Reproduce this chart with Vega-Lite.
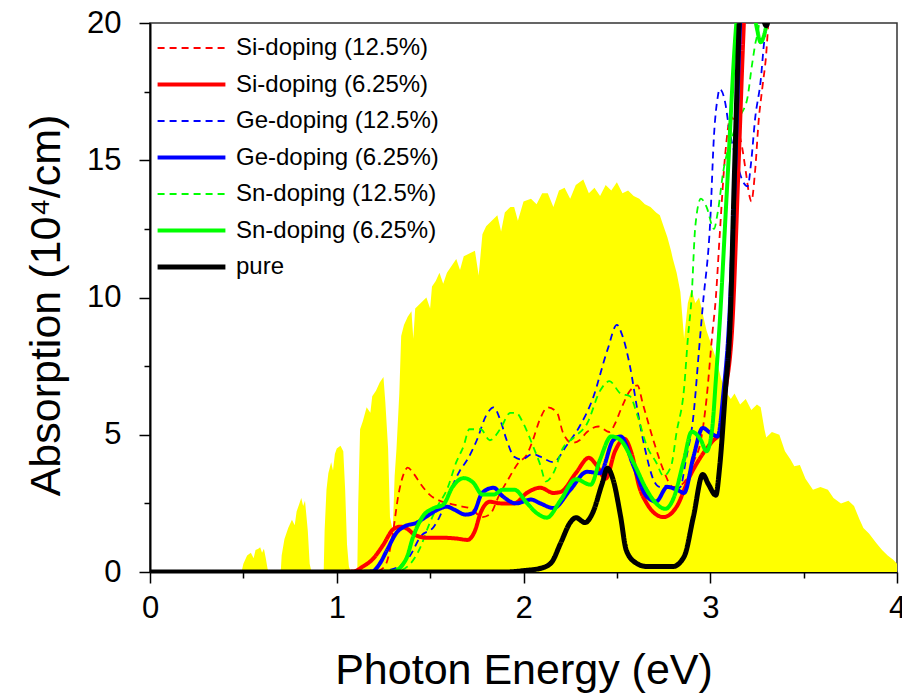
{
  "$schema": "https://vega.github.io/schema/vega-lite/v6.json",
  "width": 747,
  "height": 549,
  "autosize": {"type": "none"},
  "padding": {"left": 150, "top": 23, "right": 5, "bottom": 125},
  "config": {"font": "Liberation Sans", "view": {"stroke": "#333333", "strokeWidth": 1.5}},
  "datasets": {
    "spectrum": [
      {"e":0.49,"a":0},{"e":0.50,"a":0.3},{"e":0.52,"a":0.6},{"e":0.54,"a":0.7},{"e":0.555,"a":0.5},{"e":0.565,"a":0.8},{"e":0.58,"a":0.85},{"e":0.59,"a":0.9},{"e":0.60,"a":0.7},{"e":0.61,"a":0.85},{"e":0.62,"a":0.5},{"e":0.63,"a":0.1},{"e":0.64,"a":0},
      {"e":0.70,"a":0},{"e":0.705,"a":0.6},{"e":0.72,"a":1.2},{"e":0.74,"a":1.6},{"e":0.76,"a":1.9},{"e":0.775,"a":1.7},{"e":0.785,"a":2.2},{"e":0.80,"a":2.5},{"e":0.81,"a":2.7},{"e":0.82,"a":2.4},{"e":0.83,"a":2.6},{"e":0.845,"a":1.5},{"e":0.855,"a":0.3},{"e":0.865,"a":0},
      {"e":0.93,"a":0},{"e":0.935,"a":1.5},{"e":0.945,"a":3.0},{"e":0.955,"a":3.6},{"e":0.97,"a":4.0},{"e":0.98,"a":3.7},{"e":0.99,"a":4.3},{"e":1.00,"a":4.5},{"e":1.02,"a":4.6},{"e":1.035,"a":4.4},{"e":1.045,"a":3.0},{"e":1.055,"a":1.0},{"e":1.065,"a":0.2},{"e":1.075,"a":0},
      {"e":1.11,"a":0},{"e":1.115,"a":2.5},{"e":1.125,"a":5.2},{"e":1.14,"a":5.5},{"e":1.16,"a":6.0},{"e":1.18,"a":5.8},{"e":1.19,"a":6.4},{"e":1.21,"a":6.6},{"e":1.23,"a":6.9},{"e":1.25,"a":7.1},{"e":1.26,"a":6.2},{"e":1.275,"a":4.5},{"e":1.285,"a":2.0},{"e":1.30,"a":1.5},{"e":1.31,"a":3.5},{"e":1.32,"a":4.5},{"e":1.335,"a":6.5},{"e":1.345,"a":8.6},{"e":1.36,"a":9.0},{"e":1.38,"a":9.3},{"e":1.40,"a":9.5},{"e":1.41,"a":8.5},{"e":1.42,"a":9.6},{"e":1.45,"a":9.8},{"e":1.48,"a":10.0},{"e":1.50,"a":9.6},{"e":1.51,"a":10.4},{"e":1.53,"a":10.6},{"e":1.55,"a":10.9},{"e":1.57,"a":10.5},{"e":1.59,"a":10.9},{"e":1.62,"a":11.2},{"e":1.64,"a":11.4},{"e":1.66,"a":11.0},{"e":1.68,"a":11.5},{"e":1.71,"a":11.6},{"e":1.74,"a":11.7},{"e":1.76,"a":10.8},{"e":1.78,"a":12.3},{"e":1.80,"a":12.6},{"e":1.83,"a":12.8},{"e":1.86,"a":13.0},{"e":1.88,"a":12.4},{"e":1.90,"a":13.1},{"e":1.93,"a":13.3},{"e":1.95,"a":13.3},{"e":1.97,"a":12.8},{"e":2.00,"a":13.5},{"e":2.04,"a":13.6},{"e":2.07,"a":13.4},{"e":2.10,"a":13.8},{"e":2.13,"a":13.8},{"e":2.16,"a":13.3},{"e":2.19,"a":13.9},{"e":2.22,"a":14.0},{"e":2.25,"a":13.6},{"e":2.28,"a":14.1},{"e":2.32,"a":14.3},{"e":2.35,"a":13.8},{"e":2.38,"a":14.0},{"e":2.41,"a":13.7},{"e":2.44,"a":14.1},{"e":2.47,"a":13.9},{"e":2.50,"a":14.2},{"e":2.53,"a":13.8},{"e":2.56,"a":13.9},{"e":2.59,"a":13.7},{"e":2.62,"a":13.6},{"e":2.65,"a":13.4},{"e":2.68,"a":13.3},{"e":2.71,"a":13.1},{"e":2.73,"a":13.0},{"e":2.75,"a":12.6},{"e":2.77,"a":12.2},{"e":2.79,"a":11.7},{"e":2.80,"a":11.4},{"e":2.82,"a":10.9},{"e":2.84,"a":10.2},{"e":2.86,"a":8.5},{"e":2.88,"a":9.8},{"e":2.90,"a":10.3},{"e":2.92,"a":9.8},{"e":2.94,"a":10.0},{"e":2.96,"a":9.4},{"e":2.98,"a":8.8},{"e":3.00,"a":8.4},{"e":3.03,"a":7.8},{"e":3.06,"a":7.0},{"e":3.09,"a":6.5},{"e":3.11,"a":6.3},{"e":3.13,"a":6.5},{"e":3.16,"a":6.1},{"e":3.19,"a":6.3},{"e":3.22,"a":5.9},{"e":3.25,"a":6.1},{"e":3.27,"a":6.0},{"e":3.29,"a":5.2},{"e":3.30,"a":4.9},{"e":3.33,"a":5.1},{"e":3.37,"a":5.0},{"e":3.40,"a":4.4},{"e":3.43,"a":4.1},{"e":3.45,"a":3.85},{"e":3.48,"a":3.9},{"e":3.51,"a":3.4},{"e":3.55,"a":3.0},{"e":3.59,"a":3.1},{"e":3.63,"a":3.0},{"e":3.66,"a":2.7},{"e":3.70,"a":2.5},{"e":3.74,"a":2.6},{"e":3.77,"a":2.4},{"e":3.80,"a":1.9},{"e":3.82,"a":1.6},{"e":3.85,"a":1.4},{"e":3.89,"a":1.05},{"e":3.92,"a":0.8},{"e":3.95,"a":0.6},{"e":3.98,"a":0.45},{"e":4.0,"a":0.3}
    ],
    "curves": [
      {"s":"Si-doping (12.5%)","e":0,"a":0},{"s":"Si-doping (12.5%)","e":1.2,"a":0},{"s":"Si-doping (12.5%)","e":1.24,"a":0.1},{"s":"Si-doping (12.5%)","e":1.27,"a":0.4},{"s":"Si-doping (12.5%)","e":1.30,"a":1.4},{"s":"Si-doping (12.5%)","e":1.33,"a":2.8},{"s":"Si-doping (12.5%)","e":1.36,"a":3.6},{"s":"Si-doping (12.5%)","e":1.38,"a":3.8},{"s":"Si-doping (12.5%)","e":1.41,"a":3.6},{"s":"Si-doping (12.5%)","e":1.45,"a":3.2},{"s":"Si-doping (12.5%)","e":1.50,"a":2.8},{"s":"Si-doping (12.5%)","e":1.55,"a":2.6},{"s":"Si-doping (12.5%)","e":1.60,"a":2.5},{"s":"Si-doping (12.5%)","e":1.66,"a":2.4},{"s":"Si-doping (12.5%)","e":1.72,"a":2.3},{"s":"Si-doping (12.5%)","e":1.78,"a":2.0},{"s":"Si-doping (12.5%)","e":1.82,"a":2.1},{"s":"Si-doping (12.5%)","e":1.87,"a":2.8},{"s":"Si-doping (12.5%)","e":1.92,"a":3.4},{"s":"Si-doping (12.5%)","e":1.97,"a":3.95},{"s":"Si-doping (12.5%)","e":2.02,"a":4.3},{"s":"Si-doping (12.5%)","e":2.05,"a":4.8},{"s":"Si-doping (12.5%)","e":2.09,"a":5.6},{"s":"Si-doping (12.5%)","e":2.13,"a":6.0},{"s":"Si-doping (12.5%)","e":2.18,"a":5.8},{"s":"Si-doping (12.5%)","e":2.21,"a":5.1},{"s":"Si-doping (12.5%)","e":2.26,"a":4.7},{"s":"Si-doping (12.5%)","e":2.30,"a":4.8},{"s":"Si-doping (12.5%)","e":2.34,"a":5.1},{"s":"Si-doping (12.5%)","e":2.40,"a":5.3},{"s":"Si-doping (12.5%)","e":2.46,"a":5.1},{"s":"Si-doping (12.5%)","e":2.49,"a":5.4},{"s":"Si-doping (12.5%)","e":2.52,"a":5.9},{"s":"Si-doping (12.5%)","e":2.57,"a":6.6},{"s":"Si-doping (12.5%)","e":2.61,"a":6.8},{"s":"Si-doping (12.5%)","e":2.64,"a":6.1},{"s":"Si-doping (12.5%)","e":2.70,"a":4.7},{"s":"Si-doping (12.5%)","e":2.75,"a":3.7},{"s":"Si-doping (12.5%)","e":2.80,"a":3.1},{"s":"Si-doping (12.5%)","e":2.85,"a":3.2},{"s":"Si-doping (12.5%)","e":2.91,"a":4.0},{"s":"Si-doping (12.5%)","e":2.95,"a":4.8},{"s":"Si-doping (12.5%)","e":2.98,"a":6.3},{"s":"Si-doping (12.5%)","e":3.01,"a":8.6},{"s":"Si-doping (12.5%)","e":3.03,"a":10.0},{"s":"Si-doping (12.5%)","e":3.05,"a":12.2},{"s":"Si-doping (12.5%)","e":3.08,"a":15.2},{"s":"Si-doping (12.5%)","e":3.11,"a":16.6},{"s":"Si-doping (12.5%)","e":3.13,"a":16.4},{"s":"Si-doping (12.5%)","e":3.17,"a":15.5},{"s":"Si-doping (12.5%)","e":3.19,"a":14.6},{"s":"Si-doping (12.5%)","e":3.21,"a":13.7},{"s":"Si-doping (12.5%)","e":3.22,"a":13.5},{"s":"Si-doping (12.5%)","e":3.24,"a":14.6},{"s":"Si-doping (12.5%)","e":3.26,"a":16.5},{"s":"Si-doping (12.5%)","e":3.28,"a":17.7},{"s":"Si-doping (12.5%)","e":3.30,"a":18.9},{"s":"Si-doping (12.5%)","e":3.31,"a":19.9},{"s":"Si-doping (12.5%)","e":3.33,"a":21.5},
      {"s":"Ge-doping (12.5%)","e":0,"a":0},{"s":"Ge-doping (12.5%)","e":1.2,"a":0},{"s":"Ge-doping (12.5%)","e":1.26,"a":0.05},{"s":"Ge-doping (12.5%)","e":1.32,"a":0.15},{"s":"Ge-doping (12.5%)","e":1.39,"a":0.57},{"s":"Ge-doping (12.5%)","e":1.45,"a":1.3},{"s":"Ge-doping (12.5%)","e":1.52,"a":1.65},{"s":"Ge-doping (12.5%)","e":1.55,"a":2.0},{"s":"Ge-doping (12.5%)","e":1.61,"a":3.0},{"s":"Ge-doping (12.5%)","e":1.66,"a":3.7},{"s":"Ge-doping (12.5%)","e":1.70,"a":4.1},{"s":"Ge-doping (12.5%)","e":1.75,"a":4.8},{"s":"Ge-doping (12.5%)","e":1.80,"a":5.7},{"s":"Ge-doping (12.5%)","e":1.84,"a":6.0},{"s":"Ge-doping (12.5%)","e":1.875,"a":5.55},{"s":"Ge-doping (12.5%)","e":1.91,"a":4.8},{"s":"Ge-doping (12.5%)","e":1.95,"a":4.2},{"s":"Ge-doping (12.5%)","e":1.99,"a":4.1},{"s":"Ge-doping (12.5%)","e":2.05,"a":4.3},{"s":"Ge-doping (12.5%)","e":2.09,"a":4.2},{"s":"Ge-doping (12.5%)","e":2.16,"a":4.0},{"s":"Ge-doping (12.5%)","e":2.23,"a":4.6},{"s":"Ge-doping (12.5%)","e":2.30,"a":5.3},{"s":"Ge-doping (12.5%)","e":2.37,"a":6.3},{"s":"Ge-doping (12.5%)","e":2.45,"a":8.1},{"s":"Ge-doping (12.5%)","e":2.50,"a":9.0},{"s":"Ge-doping (12.5%)","e":2.53,"a":8.6},{"s":"Ge-doping (12.5%)","e":2.57,"a":7.5},{"s":"Ge-doping (12.5%)","e":2.61,"a":5.9},{"s":"Ge-doping (12.5%)","e":2.65,"a":4.5},{"s":"Ge-doping (12.5%)","e":2.70,"a":3.3},{"s":"Ge-doping (12.5%)","e":2.73,"a":3.1},{"s":"Ge-doping (12.5%)","e":2.77,"a":3.15},{"s":"Ge-doping (12.5%)","e":2.80,"a":3.0},{"s":"Ge-doping (12.5%)","e":2.84,"a":3.1},{"s":"Ge-doping (12.5%)","e":2.87,"a":4.1},{"s":"Ge-doping (12.5%)","e":2.91,"a":5.7},{"s":"Ge-doping (12.5%)","e":2.94,"a":8.1},{"s":"Ge-doping (12.5%)","e":2.96,"a":9.7},{"s":"Ge-doping (12.5%)","e":3.0,"a":12.8},{"s":"Ge-doping (12.5%)","e":3.02,"a":15.9},{"s":"Ge-doping (12.5%)","e":3.04,"a":17.3},{"s":"Ge-doping (12.5%)","e":3.05,"a":17.6},{"s":"Ge-doping (12.5%)","e":3.08,"a":17.1},{"s":"Ge-doping (12.5%)","e":3.10,"a":16.2},{"s":"Ge-doping (12.5%)","e":3.14,"a":15.0},{"s":"Ge-doping (12.5%)","e":3.17,"a":14.3},{"s":"Ge-doping (12.5%)","e":3.20,"a":14.05},{"s":"Ge-doping (12.5%)","e":3.22,"a":15.0},{"s":"Ge-doping (12.5%)","e":3.24,"a":16.5},{"s":"Ge-doping (12.5%)","e":3.27,"a":17.9},{"s":"Ge-doping (12.5%)","e":3.29,"a":19.4},{"s":"Ge-doping (12.5%)","e":3.30,"a":19.9},{"s":"Ge-doping (12.5%)","e":3.32,"a":21.5},
      {"s":"Sn-doping (12.5%)","e":0,"a":0},{"s":"Sn-doping (12.5%)","e":1.25,"a":0},{"s":"Sn-doping (12.5%)","e":1.32,"a":0.02},{"s":"Sn-doping (12.5%)","e":1.39,"a":0.27},{"s":"Sn-doping (12.5%)","e":1.45,"a":0.93},{"s":"Sn-doping (12.5%)","e":1.49,"a":1.65},{"s":"Sn-doping (12.5%)","e":1.54,"a":2.4},{"s":"Sn-doping (12.5%)","e":1.59,"a":3.0},{"s":"Sn-doping (12.5%)","e":1.64,"a":4.0},{"s":"Sn-doping (12.5%)","e":1.68,"a":4.6},{"s":"Sn-doping (12.5%)","e":1.71,"a":5.2},{"s":"Sn-doping (12.5%)","e":1.77,"a":5.2},{"s":"Sn-doping (12.5%)","e":1.82,"a":4.8},{"s":"Sn-doping (12.5%)","e":1.875,"a":5.2},{"s":"Sn-doping (12.5%)","e":1.93,"a":5.8},{"s":"Sn-doping (12.5%)","e":1.96,"a":5.8},{"s":"Sn-doping (12.5%)","e":2.00,"a":5.4},{"s":"Sn-doping (12.5%)","e":2.05,"a":4.6},{"s":"Sn-doping (12.5%)","e":2.09,"a":3.9},{"s":"Sn-doping (12.5%)","e":2.12,"a":3.3},{"s":"Sn-doping (12.5%)","e":2.16,"a":3.6},{"s":"Sn-doping (12.5%)","e":2.21,"a":4.5},{"s":"Sn-doping (12.5%)","e":2.27,"a":4.9},{"s":"Sn-doping (12.5%)","e":2.34,"a":5.4},{"s":"Sn-doping (12.5%)","e":2.41,"a":6.6},{"s":"Sn-doping (12.5%)","e":2.46,"a":6.95},{"s":"Sn-doping (12.5%)","e":2.52,"a":6.5},{"s":"Sn-doping (12.5%)","e":2.57,"a":6.4},{"s":"Sn-doping (12.5%)","e":2.61,"a":5.7},{"s":"Sn-doping (12.5%)","e":2.66,"a":4.6},{"s":"Sn-doping (12.5%)","e":2.71,"a":4.0},{"s":"Sn-doping (12.5%)","e":2.75,"a":3.5},{"s":"Sn-doping (12.5%)","e":2.79,"a":3.85},{"s":"Sn-doping (12.5%)","e":2.82,"a":5.1},{"s":"Sn-doping (12.5%)","e":2.86,"a":6.7},{"s":"Sn-doping (12.5%)","e":2.88,"a":8.5},{"s":"Sn-doping (12.5%)","e":2.90,"a":10.0},{"s":"Sn-doping (12.5%)","e":2.92,"a":12.6},{"s":"Sn-doping (12.5%)","e":2.95,"a":13.6},{"s":"Sn-doping (12.5%)","e":2.98,"a":13.3},{"s":"Sn-doping (12.5%)","e":3.02,"a":12.5},{"s":"Sn-doping (12.5%)","e":3.04,"a":13.1},{"s":"Sn-doping (12.5%)","e":3.07,"a":14.6},{"s":"Sn-doping (12.5%)","e":3.12,"a":15.9},{"s":"Sn-doping (12.5%)","e":3.16,"a":16.6},{"s":"Sn-doping (12.5%)","e":3.20,"a":17.3},{"s":"Sn-doping (12.5%)","e":3.22,"a":18.3},{"s":"Sn-doping (12.5%)","e":3.24,"a":19.2},{"s":"Sn-doping (12.5%)","e":3.26,"a":19.9},{"s":"Sn-doping (12.5%)","e":3.28,"a":21.5},
      {"s":"Si-doping (6.25%)","e":0,"a":0},{"s":"Si-doping (6.25%)","e":1.0,"a":0},{"s":"Si-doping (6.25%)","e":1.09,"a":0.02},{"s":"Si-doping (6.25%)","e":1.14,"a":0.2},{"s":"Si-doping (6.25%)","e":1.19,"a":0.45},{"s":"Si-doping (6.25%)","e":1.25,"a":1.0},{"s":"Si-doping (6.25%)","e":1.30,"a":1.54},{"s":"Si-doping (6.25%)","e":1.34,"a":1.65},{"s":"Si-doping (6.25%)","e":1.37,"a":1.6},{"s":"Si-doping (6.25%)","e":1.42,"a":1.35},{"s":"Si-doping (6.25%)","e":1.48,"a":1.25},{"s":"Si-doping (6.25%)","e":1.56,"a":1.25},{"s":"Si-doping (6.25%)","e":1.64,"a":1.22},{"s":"Si-doping (6.25%)","e":1.70,"a":1.17},{"s":"Si-doping (6.25%)","e":1.74,"a":1.5},{"s":"Si-doping (6.25%)","e":1.77,"a":2.15},{"s":"Si-doping (6.25%)","e":1.82,"a":2.56},{"s":"Si-doping (6.25%)","e":1.875,"a":2.5},{"s":"Si-doping (6.25%)","e":1.95,"a":2.5},{"s":"Si-doping (6.25%)","e":2.02,"a":2.89},{"s":"Si-doping (6.25%)","e":2.09,"a":3.07},{"s":"Si-doping (6.25%)","e":2.16,"a":2.88},{"s":"Si-doping (6.25%)","e":2.20,"a":2.92},{"s":"Si-doping (6.25%)","e":2.28,"a":3.6},{"s":"Si-doping (6.25%)","e":2.35,"a":4.16},{"s":"Si-doping (6.25%)","e":2.39,"a":3.9},{"s":"Si-doping (6.25%)","e":2.44,"a":3.4},{"s":"Si-doping (6.25%)","e":2.49,"a":4.4},{"s":"Si-doping (6.25%)","e":2.54,"a":4.85},{"s":"Si-doping (6.25%)","e":2.58,"a":4.3},{"s":"Si-doping (6.25%)","e":2.62,"a":3.1},{"s":"Si-doping (6.25%)","e":2.66,"a":2.5},{"s":"Si-doping (6.25%)","e":2.70,"a":2.15},{"s":"Si-doping (6.25%)","e":2.75,"a":2.0},{"s":"Si-doping (6.25%)","e":2.82,"a":2.38},{"s":"Si-doping (6.25%)","e":2.89,"a":3.48},{"s":"Si-doping (6.25%)","e":2.95,"a":4.2},{"s":"Si-doping (6.25%)","e":3.01,"a":4.75},{"s":"Si-doping (6.25%)","e":3.05,"a":5.07},{"s":"Si-doping (6.25%)","e":3.08,"a":6.5},{"s":"Si-doping (6.25%)","e":3.12,"a":9.2},{"s":"Si-doping (6.25%)","e":3.15,"a":14.5},{"s":"Si-doping (6.25%)","e":3.18,"a":20},{"s":"Si-doping (6.25%)","e":3.2,"a":23},
      {"s":"Ge-doping (6.25%)","e":0,"a":0},{"s":"Ge-doping (6.25%)","e":1.1,"a":0},{"s":"Ge-doping (6.25%)","e":1.19,"a":0.02},{"s":"Ge-doping (6.25%)","e":1.23,"a":0.3},{"s":"Ge-doping (6.25%)","e":1.27,"a":0.81},{"s":"Ge-doping (6.25%)","e":1.32,"a":1.43},{"s":"Ge-doping (6.25%)","e":1.36,"a":1.65},{"s":"Ge-doping (6.25%)","e":1.43,"a":1.8},{"s":"Ge-doping (6.25%)","e":1.48,"a":2.02},{"s":"Ge-doping (6.25%)","e":1.54,"a":2.27},{"s":"Ge-doping (6.25%)","e":1.59,"a":2.38},{"s":"Ge-doping (6.25%)","e":1.63,"a":2.27},{"s":"Ge-doping (6.25%)","e":1.69,"a":2.09},{"s":"Ge-doping (6.25%)","e":1.73,"a":2.15},{"s":"Ge-doping (6.25%)","e":1.78,"a":2.89},{"s":"Ge-doping (6.25%)","e":1.84,"a":3.07},{"s":"Ge-doping (6.25%)","e":1.89,"a":2.75},{"s":"Ge-doping (6.25%)","e":1.96,"a":2.5},{"s":"Ge-doping (6.25%)","e":2.04,"a":2.64},{"s":"Ge-doping (6.25%)","e":2.09,"a":2.5},{"s":"Ge-doping (6.25%)","e":2.16,"a":2.33},{"s":"Ge-doping (6.25%)","e":2.25,"a":2.99},{"s":"Ge-doping (6.25%)","e":2.34,"a":3.65},{"s":"Ge-doping (6.25%)","e":2.41,"a":3.6},{"s":"Ge-doping (6.25%)","e":2.48,"a":4.8},{"s":"Ge-doping (6.25%)","e":2.52,"a":4.94},{"s":"Ge-doping (6.25%)","e":2.59,"a":3.85},{"s":"Ge-doping (6.25%)","e":2.66,"a":2.75},{"s":"Ge-doping (6.25%)","e":2.71,"a":2.57},{"s":"Ge-doping (6.25%)","e":2.77,"a":3.1},{"s":"Ge-doping (6.25%)","e":2.82,"a":3.0},{"s":"Ge-doping (6.25%)","e":2.86,"a":2.88},{"s":"Ge-doping (6.25%)","e":2.91,"a":4.2},{"s":"Ge-doping (6.25%)","e":2.96,"a":5.25},{"s":"Ge-doping (6.25%)","e":3.0,"a":5.07},{"s":"Ge-doping (6.25%)","e":3.04,"a":4.94},{"s":"Ge-doping (6.25%)","e":3.07,"a":6.5},{"s":"Ge-doping (6.25%)","e":3.10,"a":9.0},{"s":"Ge-doping (6.25%)","e":3.13,"a":14},{"s":"Ge-doping (6.25%)","e":3.16,"a":20},{"s":"Ge-doping (6.25%)","e":3.18,"a":23},
      {"s":"Sn-doping (6.25%)","e":0,"a":0},{"s":"Sn-doping (6.25%)","e":1.2,"a":0},{"s":"Sn-doping (6.25%)","e":1.30,"a":0.02},{"s":"Sn-doping (6.25%)","e":1.37,"a":0.45},{"s":"Sn-doping (6.25%)","e":1.41,"a":1.3},{"s":"Sn-doping (6.25%)","e":1.46,"a":2.02},{"s":"Sn-doping (6.25%)","e":1.52,"a":2.33},{"s":"Sn-doping (6.25%)","e":1.57,"a":2.45},{"s":"Sn-doping (6.25%)","e":1.62,"a":3.1},{"s":"Sn-doping (6.25%)","e":1.68,"a":3.42},{"s":"Sn-doping (6.25%)","e":1.73,"a":3.26},{"s":"Sn-doping (6.25%)","e":1.78,"a":2.82},{"s":"Sn-doping (6.25%)","e":1.84,"a":2.82},{"s":"Sn-doping (6.25%)","e":1.89,"a":3.0},{"s":"Sn-doping (6.25%)","e":1.95,"a":3.0},{"s":"Sn-doping (6.25%)","e":2.02,"a":2.5},{"s":"Sn-doping (6.25%)","e":2.07,"a":2.15},{"s":"Sn-doping (6.25%)","e":2.125,"a":1.98},{"s":"Sn-doping (6.25%)","e":2.2,"a":2.63},{"s":"Sn-doping (6.25%)","e":2.28,"a":3.38},{"s":"Sn-doping (6.25%)","e":2.36,"a":3.18},{"s":"Sn-doping (6.25%)","e":2.41,"a":4.1},{"s":"Sn-doping (6.25%)","e":2.47,"a":4.94},{"s":"Sn-doping (6.25%)","e":2.52,"a":4.8},{"s":"Sn-doping (6.25%)","e":2.59,"a":3.97},{"s":"Sn-doping (6.25%)","e":2.66,"a":2.99},{"s":"Sn-doping (6.25%)","e":2.71,"a":2.5},{"s":"Sn-doping (6.25%)","e":2.76,"a":2.3},{"s":"Sn-doping (6.25%)","e":2.80,"a":2.63},{"s":"Sn-doping (6.25%)","e":2.86,"a":4.1},{"s":"Sn-doping (6.25%)","e":2.90,"a":5.11},{"s":"Sn-doping (6.25%)","e":2.95,"a":4.8},{"s":"Sn-doping (6.25%)","e":2.98,"a":4.4},{"s":"Sn-doping (6.25%)","e":3.01,"a":5.2},{"s":"Sn-doping (6.25%)","e":3.03,"a":7.0},{"s":"Sn-doping (6.25%)","e":3.05,"a":9.0},{"s":"Sn-doping (6.25%)","e":3.09,"a":14.0},{"s":"Sn-doping (6.25%)","e":3.14,"a":20.0},{"s":"Sn-doping (6.25%)","e":3.17,"a":21.5},{"s":"Sn-doping (6.25%)","e":3.22,"a":21},{"s":"Sn-doping (6.25%)","e":3.25,"a":19.8},{"s":"Sn-doping (6.25%)","e":3.27,"a":19.3},{"s":"Sn-doping (6.25%)","e":3.29,"a":19.6},{"s":"Sn-doping (6.25%)","e":3.31,"a":20.3},{"s":"Sn-doping (6.25%)","e":3.34,"a":21.5},
      {"s":"pure","e":0,"a":0},{"s":"pure","e":1.9,"a":0},{"s":"pure","e":2.0,"a":0.05},{"s":"pure","e":2.1,"a":0.15},{"s":"pure","e":2.15,"a":0.35},{"s":"pure","e":2.20,"a":1.07},{"s":"pure","e":2.25,"a":1.8},{"s":"pure","e":2.28,"a":1.98},{"s":"pure","e":2.33,"a":1.8},{"s":"pure","e":2.37,"a":2.15},{"s":"pure","e":2.42,"a":3.2},{"s":"pure","e":2.45,"a":3.78},{"s":"pure","e":2.48,"a":3.36},{"s":"pure","e":2.52,"a":2.02},{"s":"pure","e":2.55,"a":0.8},{"s":"pure","e":2.6,"a":0.34},{"s":"pure","e":2.66,"a":0.2},{"s":"pure","e":2.8,"a":0.2},{"s":"pure","e":2.86,"a":0.56},{"s":"pure","e":2.91,"a":2.02},{"s":"pure","e":2.96,"a":3.55},{"s":"pure","e":2.99,"a":3.2},{"s":"pure","e":3.03,"a":2.8},{"s":"pure","e":3.05,"a":3.8},{"s":"pure","e":3.08,"a":6.5},{"s":"pure","e":3.107,"a":9.2},{"s":"pure","e":3.13,"a":14.6},{"s":"pure","e":3.155,"a":20},{"s":"pure","e":3.18,"a":23},{"s":"pure","e":3.26,"a":21},{"s":"pure","e":3.30,"a":19.9},{"s":"pure","e":3.33,"a":21},{"s":"pure","e":3.4,"a":23}
    ]
  },
  "encoding": {
    "x": {
      "field": "e", "type": "quantitative",
      "scale": {"domain": [0, 4], "nice": false},
      "axis": {
        "title": "Photon Energy (eV)",
        "values": [0, 0.5, 1, 1.5, 2, 2.5, 3, 3.5, 4],
        "labelExpr": "datum.value % 1 === 0 ? format(datum.value, 'd') : ''",
        "grid": false,
        "tickSize": {"condition": {"test": "datum.value % 1 === 0", "value": 11}, "value": 6},
        "tickWidth": 1.5, "tickColor": "#000000",
        "domainColor": "#000000", "domainWidth": 2,
        "labelFontSize": 31, "labelColor": "#000000", "labelPadding": 10, "labelFlush": false,
        "titleFontSize": 43, "titleFontWeight": "normal", "titleColor": "#000000", "titlePadding": 26
      }
    },
    "y": {
      "field": "a", "type": "quantitative",
      "scale": {"domain": [0, 20], "nice": false},
      "axis": {
        "title": "Absorption (10⁴/cm)",
        "titleY": 282,
        "values": [0, 2.5, 5, 7.5, 10, 12.5, 15, 17.5, 20],
        "labelExpr": "datum.value % 5 === 0 ? format(datum.value, 'd') : ''",
        "grid": false,
        "tickSize": {"condition": {"test": "datum.value % 5 === 0", "value": 11}, "value": 6},
        "tickWidth": 1.5, "tickColor": "#000000",
        "domainColor": "#000000", "domainWidth": 2,
        "labelFontSize": 31, "labelColor": "#000000", "labelPadding": 18, "labelFlush": false,
        "titleFontSize": 43, "titleFontWeight": "normal", "titleColor": "#000000", "titlePadding": 18
      }
    }
  },
  "layer": [
    {
      "data": {"name": "spectrum"},
      "mark": {"type": "area", "color": "#ffff00", "clip": true, "interpolate": "linear"}
    },
    {
      "data": {"name": "curves"},
      "mark": {"type": "line", "clip": true, "interpolate": "monotone"},
      "encoding": {
        "color": {
          "field": "s", "type": "nominal",
          "scale": {
            "domain": ["Si-doping (12.5%)", "Si-doping (6.25%)", "Ge-doping (12.5%)", "Ge-doping (6.25%)", "Sn-doping (12.5%)", "Sn-doping (6.25%)", "pure"],
            "range": ["#ff0000", "#ff0000", "#0000ff", "#0000ff", "#00ff00", "#00ff00", "#000000"]
          },
          "legend": {
            "title": null, "orient": "none", "legendX": 5, "legendY": 13,
            "symbolType": "stroke", "symbolSize": 4600, "labelLimit": 0, "clipHeight": 24,
            "labelFontSize": 24, "labelColor": "#000000", "labelOffset": 8,
            "rowPadding": 12.5
          }
        },
        "strokeDash": {
          "field": "s", "type": "nominal",
          "scale": {
            "domain": ["Si-doping (12.5%)", "Si-doping (6.25%)", "Ge-doping (12.5%)", "Ge-doping (6.25%)", "Sn-doping (12.5%)", "Sn-doping (6.25%)", "pure"],
            "range": [[7, 5], [1, 0], [7, 5], [1, 0], [7, 5], [1, 0], [1, 0]]
          },
          "legend": {
            "title": null, "orient": "none", "legendX": 5, "legendY": 13,
            "symbolType": "stroke", "symbolSize": 4600, "labelLimit": 0, "clipHeight": 24,
            "labelFontSize": 24, "labelColor": "#000000", "labelOffset": 8,
            "rowPadding": 12.5
          }
        },
        "strokeWidth": {
          "field": "s", "type": "nominal",
          "scale": {
            "type": "ordinal",
            "domain": ["Si-doping (12.5%)", "Si-doping (6.25%)", "Ge-doping (12.5%)", "Ge-doping (6.25%)", "Sn-doping (12.5%)", "Sn-doping (6.25%)", "pure"],
            "range": [1.8, 4, 1.8, 4, 1.8, 4, 5]
          },
          "legend": {
            "title": null, "orient": "none", "legendX": 5, "legendY": 13,
            "symbolType": "stroke", "symbolSize": 4600, "labelLimit": 0, "clipHeight": 24,
            "labelFontSize": 24, "labelColor": "#000000", "labelOffset": 8,
            "rowPadding": 12.5
          }
        }
      }
    }
  ]
}
